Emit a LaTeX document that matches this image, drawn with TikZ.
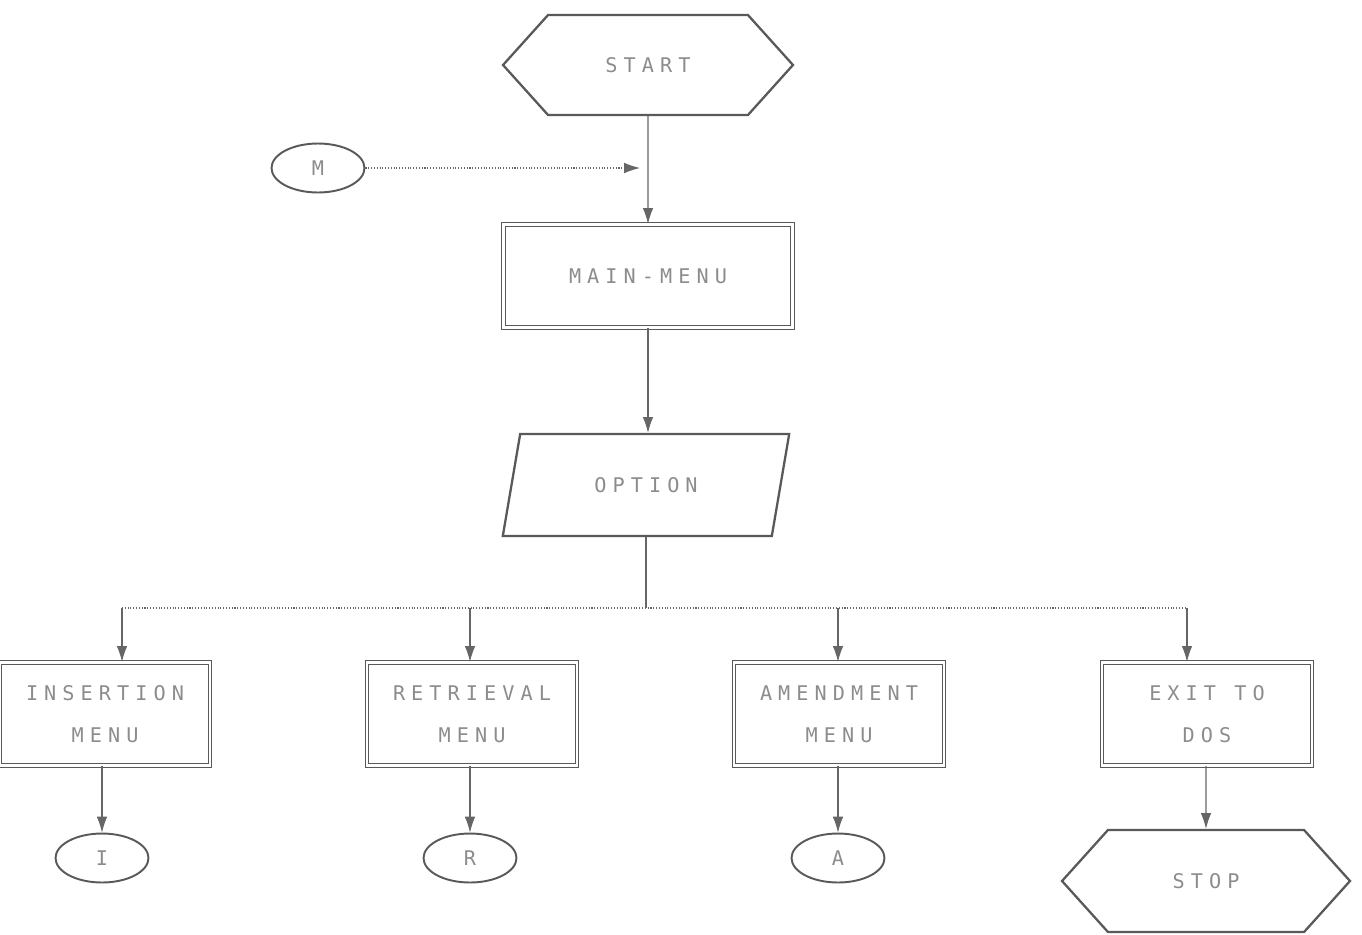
\documentclass[tikz,border=0pt]{standalone}
\usepackage{fontspec}
\newfontfamily\dotfont[LetterSpace=30]{DejaVu Sans Mono}
\usetikzlibrary{positioning, arrows.meta, shapes.geometric, shapes.symbols}

\begin{document}
\begin{tikzpicture}[x=0.02cm, y=-0.02cm,
    every node/.style={text=black!45, font=\fontsize{11.5}{24}\selectfont\dotfont},
    term/.style={signal, signal to=east and west, signal pointer angle=96, draw=black!65, line width=1.3pt, minimum width=5.8cm, minimum height=2cm},
    box/.style={rectangle, draw=black!65, double, double distance=1.2pt, line width=0.8pt, align=center, minimum width=4.2cm, minimum height=2.06cm},
    io/.style={trapezium, trapezium left angle=73.6, trapezium right angle=106.4, trapezium stretches=true, draw=black!65, line width=1.3pt, minimum width=5.74cm, minimum height=2.04cm},
    conn/.style={ellipse, draw=black!65, line width=1.1pt, minimum width=1.86cm, minimum height=0.98cm, inner sep=0pt},
    flow/.style={draw=black!60, line width=0.6pt},
    tip/.style={-{Latex[length=9pt, width=6pt]}}
  ]
  \useasboundingbox (0,0) rectangle (1362,934);

  % main line
  \node[term] (start) at (648,65) {START};
  \node[box, minimum width=5.78cm] (main) at (648,276) {MAIN-MENU};
  \node[io] (opt) at (646,485) {OPTION};
  \node[conn] (M) at (318,168) {M};
  \coordinate (mjoin) at (640,168);

  % the four menus
  \node[box] (ins) at (105,714) {INSERTION\\MENU};
  \node[box] (ret) at (472,714) {RETRIEVAL\\MENU};
  \node[box] (amd) at (839,714) {AMENDMENT\\MENU};
  \node[box] (ext) at (1207,714) {EXIT TO\\DOS};

  \node[conn] (I) at (102,858) {I};
  \node[conn] (R) at (470,858) {R};
  \node[conn] (A) at (838,858) {A};
  \node[term, minimum width=5.76cm, minimum height=2.04cm] (stop) at (1206,881) {STOP};

  % branch points
  \coordinate (split) at (646,608);
  \coordinate (b1) at (122,608);
  \coordinate (b2) at (470,608);
  \coordinate (b3) at (838,608);
  \coordinate (b4) at (1187,608);

  \draw[flow, tip] (start) -- (main);
  \draw[flow, tip, densely dotted] (M) -- (mjoin);
  \draw[flow, tip] (main.south) -- (main.south |- opt.north);
  \draw[flow] (opt.south -| split) -- (split);
  \draw[flow, densely dotted] (b1) -- (b4);
  \draw[flow, tip] (b1) -- (b1 |- ins.north);
  \draw[flow, tip] (b2) -- (b2 |- ret.north);
  \draw[flow, tip] (b3) -- (b3 |- amd.north);
  \draw[flow, tip] (b4) -- (b4 |- ext.north);

  \draw[flow, tip] (I |- ins.south) -- (I);
  \draw[flow, tip] (R |- ret.south) -- (R);
  \draw[flow, tip] (A |- amd.south) -- (A);
  \draw[flow, tip] (stop |- ext.south) -- (stop);
\end{tikzpicture}
\end{document}
